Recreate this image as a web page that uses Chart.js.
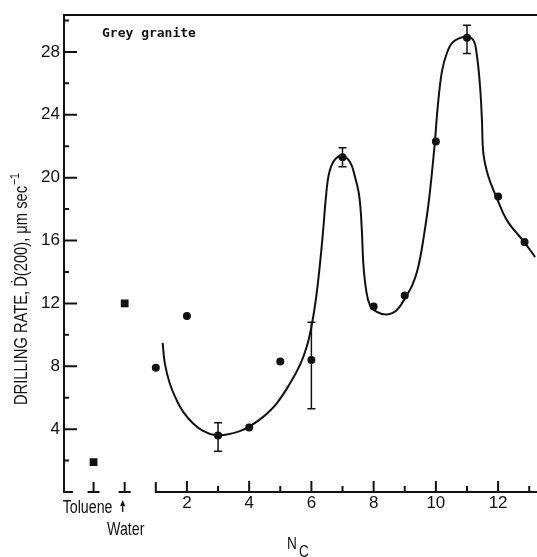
<!DOCTYPE html>
<html>
<head>
<meta charset="utf-8">
<script src="https://cdn.jsdelivr.net/npm/chart.js@4.4.1/dist/chart.umd.min.js"></script>
<style>
  html, body { margin: 0; padding: 0; background: #fff; }
  #wrap { width: 537px; height: 557px; }
</style>
</head>
<body>
<div id="wrap"><canvas id="myChart"></canvas></div>
<script>
// toluene / water reference points (squares)
var refX = [-1, 0];
var refY = [1.9, 12.0];
var refNames = ['Toluene', 'Water'];

// alcohols, N_C = 1..13 (dots)
var carbonX = [1, 2, 3, 4, 5, 6, 7, 8, 9, 10, 11, 12, 12.85];
var rateY = [7.9, 11.2, 3.6, 4.1, 8.3, 8.4, 21.3, 11.8, 12.5, 22.3, 28.9, 18.8, 15.9];

// error bars
var errX = [3, 6, 7, 11];
var errLow = [2.6, 5.3, 20.7, 27.9];
var errHigh = [4.4, 10.8, 21.9, 29.7];

// hand drawn curve
var curveX = [1.22, 1.29, 1.45, 1.67, 1.88, 2.2, 2.52, 2.9, 3.28, 3.7, 4.03, 4.45, 4.88, 5.31, 5.63, 5.85, 6.0, 6.14, 6.28, 6.38, 6.46, 6.56, 6.72, 6.97, 7.24, 7.4, 7.54, 7.62, 7.67, 7.76, 7.88, 8.1, 8.42, 8.74, 9.06, 9.25, 9.42, 9.6, 9.78, 9.97, 10.05, 10.19, 10.35, 10.56, 10.97, 11.2, 11.31, 11.42, 11.48, 11.53, 11.69, 11.94, 12.28, 12.84, 13.19];
var curveY = [9.49, 8.18, 6.9, 5.84, 5.1, 4.36, 3.89, 3.62, 3.66, 3.87, 4.19, 4.78, 5.63, 6.9, 8.07, 9.24, 10.5, 12.2, 14.6, 16.7, 18.6, 20.2, 21.05, 21.4, 21.0, 20.06, 18.8, 16.7, 14.5, 12.85, 11.9, 11.46, 11.3, 11.57, 12.5, 13.2, 14.2, 16.1, 18.6, 22.3, 24.3, 26.7, 27.9, 28.65, 28.97, 28.76, 27.9, 25.8, 23.7, 21.5, 20.06, 18.8, 17.3, 15.9, 14.95];

var xTickVals = [2, 4, 6, 8, 10, 12];
var xMinor = [3, 5, 7, 9, 11, 13];
var yTickVals = [4, 8, 12, 16, 20, 24, 28];
var yMinor = [2, 6, 10, 14, 18, 22, 26, 30];

function pts(xs, ys) {
  return xs.map(function (x, i) { return { x: x, y: ys[i] }; });
}

var FONT = '"Liberation Sans", Arial, sans-serif';

// narrow text: the original lettering is a condensed face
function narrowText(ctx, txt, x, y, sx) {
  ctx.save();
  ctx.translate(x, y);
  ctx.scale(sx, 1);
  ctx.fillText(txt, 0, 0);
  ctx.restore();
}

var axisPlugin = {
  id: 'axisPlugin',
  afterDraw: function (chart) {
    var ctx = chart.ctx, xs = chart.scales.x, ys = chart.scales.y, a = chart.chartArea;
    ctx.save();
    ctx.strokeStyle = '#111';
    ctx.fillStyle = '#111';
    ctx.lineWidth = 2;
    ctx.beginPath();
    ctx.moveTo(a.right, a.top);
    ctx.lineTo(a.left, a.top);
    ctx.lineTo(a.left, a.bottom);
    ctx.lineTo(a.left + 9, a.bottom);
    var x1 = xs.getPixelForValue(1);
    ctx.moveTo(x1, a.bottom - 10);
    ctx.lineTo(x1, a.bottom);
    ctx.lineTo(a.right, a.bottom);
    // inverted T marks for toluene and water
    refX.forEach(function (v) {
      var p = xs.getPixelForValue(v);
      ctx.moveTo(p - 6, a.bottom);
      ctx.lineTo(p + 6, a.bottom);
      ctx.moveTo(p, a.bottom);
      ctx.lineTo(p, a.bottom - 10);
    });
    xTickVals.forEach(function (v) {
      var p = xs.getPixelForValue(v);
      ctx.moveTo(p, a.bottom);
      ctx.lineTo(p, a.bottom - 11);
    });
    xMinor.forEach(function (v) {
      var p = xs.getPixelForValue(v);
      ctx.moveTo(p, a.bottom);
      ctx.lineTo(p, a.bottom - 6);
    });
    yTickVals.forEach(function (v) {
      var p = ys.getPixelForValue(v);
      ctx.moveTo(a.left, p);
      ctx.lineTo(a.left + 13, p);
    });
    yMinor.forEach(function (v) {
      var p = ys.getPixelForValue(v);
      ctx.moveTo(a.left, p);
      ctx.lineTo(a.left + 5, p);
    });
    ctx.stroke();

    // error bars
    ctx.lineWidth = 1.5;
    ctx.beginPath();
    errX.forEach(function (v, i) {
      var p = xs.getPixelForValue(v);
      var lo = ys.getPixelForValue(errLow[i]);
      var hi = ys.getPixelForValue(errHigh[i]);
      ctx.moveTo(p, lo); ctx.lineTo(p, hi);
      ctx.moveTo(p - 4, lo); ctx.lineTo(p + 4, lo);
      ctx.moveTo(p - 4, hi); ctx.lineTo(p + 4, hi);
    });
    ctx.stroke();

    // toluene / water labels under the axis
    ctx.font = '18px ' + FONT;
    ctx.textBaseline = 'alphabetic';
    ctx.textAlign = 'center';
    var pt = xs.getPixelForValue(refX[0]);
    var pw = xs.getPixelForValue(refX[1]);
    narrowText(ctx, refNames[0], pt - 6, 513, 0.79);
    narrowText(ctx, refNames[1], pw + 1, 535, 0.79);
    // little arrow pointing at the water mark
    ctx.lineWidth = 1.3;
    ctx.beginPath();
    ctx.moveTo(pw - 2, 512);
    ctx.lineTo(pw - 2, 502);
    ctx.stroke();
    ctx.beginPath();
    ctx.moveTo(pw - 2, 500);
    ctx.lineTo(pw - 4.5, 506);
    ctx.lineTo(pw + 0.5, 506);
    ctx.closePath();
    ctx.fill();

    // panel label
    ctx.font = 'bold 13px "DejaVu Sans Mono", monospace';
    ctx.textAlign = 'left';
    ctx.fillText('Grey granite', 102, 37);

    // x axis title N_C
    ctx.font = '16px ' + FONT;
    narrowText(ctx, 'N', 287, 549, 0.85);
    narrowText(ctx, 'C', 299, 557, 0.85);

    // y axis title
    ctx.translate(27, 405);
    ctx.rotate(-Math.PI / 2);
    ctx.font = '18px ' + FONT;
    var main = 'DRILLING RATE, \u1E0A(200), \u03BCm sec';
    var w = ctx.measureText(main).width;
    ctx.font = '13px ' + FONT;
    var ws = ctx.measureText('\u22121').width;
    var sx = 232 / (w + ws + 1);
    ctx.scale(sx, 1);
    ctx.font = '18px ' + FONT;
    ctx.fillText(main, 0, 0);
    ctx.font = '13px ' + FONT;
    ctx.fillText('\u22121', w + 1, -8);
    ctx.restore();
  }
};

var ctx = document.getElementById('myChart').getContext('2d');
var chart = new Chart(ctx, {
  type: 'scatter',
  data: {
    datasets: [
      {
        data: pts(carbonX, rateY),
        pointStyle: 'circle',
        pointRadius: 4,
        backgroundColor: '#111',
        borderColor: '#111',
        borderWidth: 0
      },
      {
        data: pts(refX, refY),
        pointStyle: 'rect',
        pointRadius: 5.5,
        backgroundColor: '#111',
        borderColor: '#111',
        borderWidth: 0
      },
      {
        type: 'line',
        data: pts(curveX, curveY),
        showLine: true,
        pointRadius: 0,
        borderColor: '#111',
        borderWidth: 2,
        fill: false,
        tension: 0.4
      }
    ]
  },
  options: {
    responsive: true,
    maintainAspectRatio: false,
    animation: false,
    layout: { autoPadding: false, padding: { top: 15, left: 0, right: 0, bottom: 0 } },
    plugins: { legend: { display: false }, tooltip: { enabled: false } },
    scales: {
      x: {
        type: 'linear',
        min: -1.95,
        max: 13.25,
        grid: { display: false, drawTicks: false },
        border: { display: false },
        afterBuildTicks: function (scale) {
          scale.ticks = xTickVals.map(function (v) { return { value: v }; });
        },
        afterFit: function (scale) { scale.height = 65; },
        ticks: {
          autoSkip: false,
          maxRotation: 0,
          padding: 1,
          color: '#111',
          font: { family: FONT, size: 17 }
        }
      },
      y: {
        type: 'linear',
        min: 0,
        max: 30.35,
        grid: { display: false, drawTicks: false },
        border: { display: false },
        afterBuildTicks: function (scale) {
          scale.ticks = yTickVals.map(function (v) { return { value: v }; });
        },
        afterFit: function (scale) { scale.width = 64; },
        ticks: {
          padding: 4,
          color: '#111',
          font: { family: FONT, size: 17 }
        }
      }
    }
  },
  plugins: [axisPlugin]
});
</script>
</body>
</html>
